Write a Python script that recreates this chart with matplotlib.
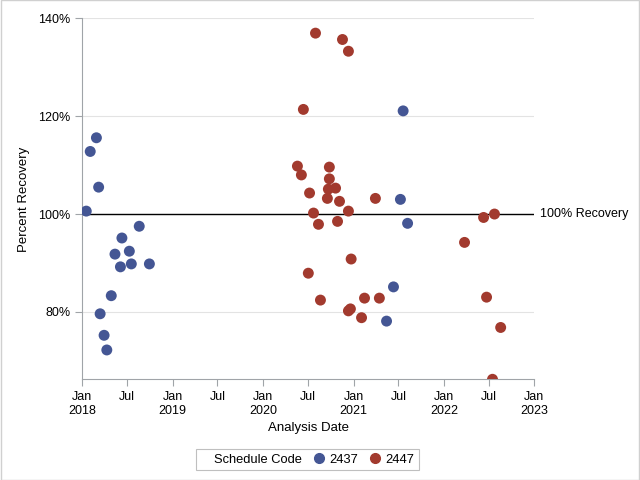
import pandas as pd
import matplotlib
matplotlib.use("Agg")
import matplotlib.pyplot as plt
from matplotlib.lines import Line2D
from matplotlib.patches import Rectangle

plt.rcParams['font.family'] = ['Liberation Sans', 'DejaVu Sans']

# schedule code 2437
dates_2437 = ['2018-01-17', '2018-02-02', '2018-02-27', '2018-03-08', '2018-03-14',
              '2018-03-30', '2018-04-10', '2018-04-28', '2018-05-13', '2018-06-04',
              '2018-06-10', '2018-07-10', '2018-07-18', '2018-08-19', '2018-09-29',
              '2021-05-14', '2021-06-11', '2021-07-09', '2021-07-20', '2021-08-07']
rec_2437 = [100.6, 112.8, 115.6, 105.5, 79.6,
            75.2, 72.2, 83.3, 91.8, 89.2,
            95.1, 92.4, 89.8, 97.5, 89.8,
            78.1, 85.1, 103.0, 121.1, 98.1]

# schedule code 2447
dates_2447 = ['2020-05-19', '2020-06-04', '2020-06-12', '2020-07-02', '2020-07-07',
              '2020-07-23', '2020-07-31', '2020-08-12', '2020-08-20', '2020-09-17',
              '2020-09-21', '2020-09-25', '2020-09-25', '2020-10-20', '2020-10-28',
              '2020-11-05', '2020-11-17', '2020-12-11', '2020-12-11', '2020-12-11',
              '2020-12-19', '2020-12-22', '2021-02-02', '2021-02-14', '2021-03-30',
              '2021-04-15', '2022-03-25', '2022-06-10', '2022-06-22', '2022-07-16',
              '2022-07-24', '2022-08-18']
rec_2447 = [109.8, 108.0, 121.4, 87.9, 104.3,
            100.2, 137.0, 97.9, 82.4, 103.2,
            105.1, 109.6, 107.2, 105.3, 98.5,
            102.6, 135.7, 133.3, 100.6, 80.2,
            80.6, 90.8, 78.8, 82.8, 103.2,
            82.8, 94.2, 99.3, 83.0, 66.2,
            100.0, 76.8]

codes = ['2437', '2447']
colors = ['#445694', '#A23A2E']

fig = plt.figure(figsize=(6.4, 4.8), dpi=100)
ax = fig.add_axes([0.1286, 0.2098, 0.7063, 0.7517])

for d, v, c in zip([dates_2437, dates_2447], [rec_2437, rec_2447], colors):
    ax.scatter(pd.to_datetime(d), v, s=62, color=c, edgecolors='none', zorder=3)

ax.axhline(100, color='black', lw=1, zorder=2)
ax.text(1.012, 100, '100% Recovery', transform=ax.get_yaxis_transform(),
        va='center', ha='left', fontsize=9)

ax.set_xlim(pd.Timestamp('2018-01-01'), pd.Timestamp('2023-01-01'))
ax.set_ylim(66.2, 140)

ticks = pd.date_range('2018-01-01', '2023-01-01', freq='6MS')
ax.set_xticks(ticks)
ax.set_xticklabels([f'Jan\n{t.year}' if t.month == 1 else 'Jul' for t in ticks])
ax.set_yticks([80, 100, 120, 140])
ax.set_yticklabels(['80%', '100%', '120%', '140%'])
ax.yaxis.grid(True, color='#e3e3e3', lw=0.8, zorder=0)

for s in ['top', 'right']:
    ax.spines[s].set_visible(False)
for s in ['left', 'bottom']:
    ax.spines[s].set_color('#a0a4a8')
ax.tick_params(colors='#a0a4a8', labelcolor='black', labelsize=9, length=5)

ax.set_xlabel('Analysis Date', fontsize=9.5)
ax.set_ylabel('Percent Recovery', fontsize=9.5, labelpad=6)

handles = [Line2D([], [], ls='none', marker=None)]
handles += [Line2D([], [], ls='none', marker='o', ms=7, color=c) for c in colors]
leg = fig.legend(handles, ['Schedule Code'] + codes, ncol=3, loc='center',
                 bbox_to_anchor=(307 / 640, 1 - 459.5 / 480), fontsize=9.3,
                 fancybox=False, edgecolor='#b0b0b0', handlelength=0.6,
                 handletextpad=0.5, columnspacing=1.0, borderpad=0.35)
leg.get_frame().set_linewidth(0.8)

fig.patches.append(Rectangle((0.001, 0.001), 0.998, 0.998, transform=fig.transFigure,
                             fill=False, edgecolor='#d0d0d0', lw=1))

fig.savefig('out.png', dpi=100)
